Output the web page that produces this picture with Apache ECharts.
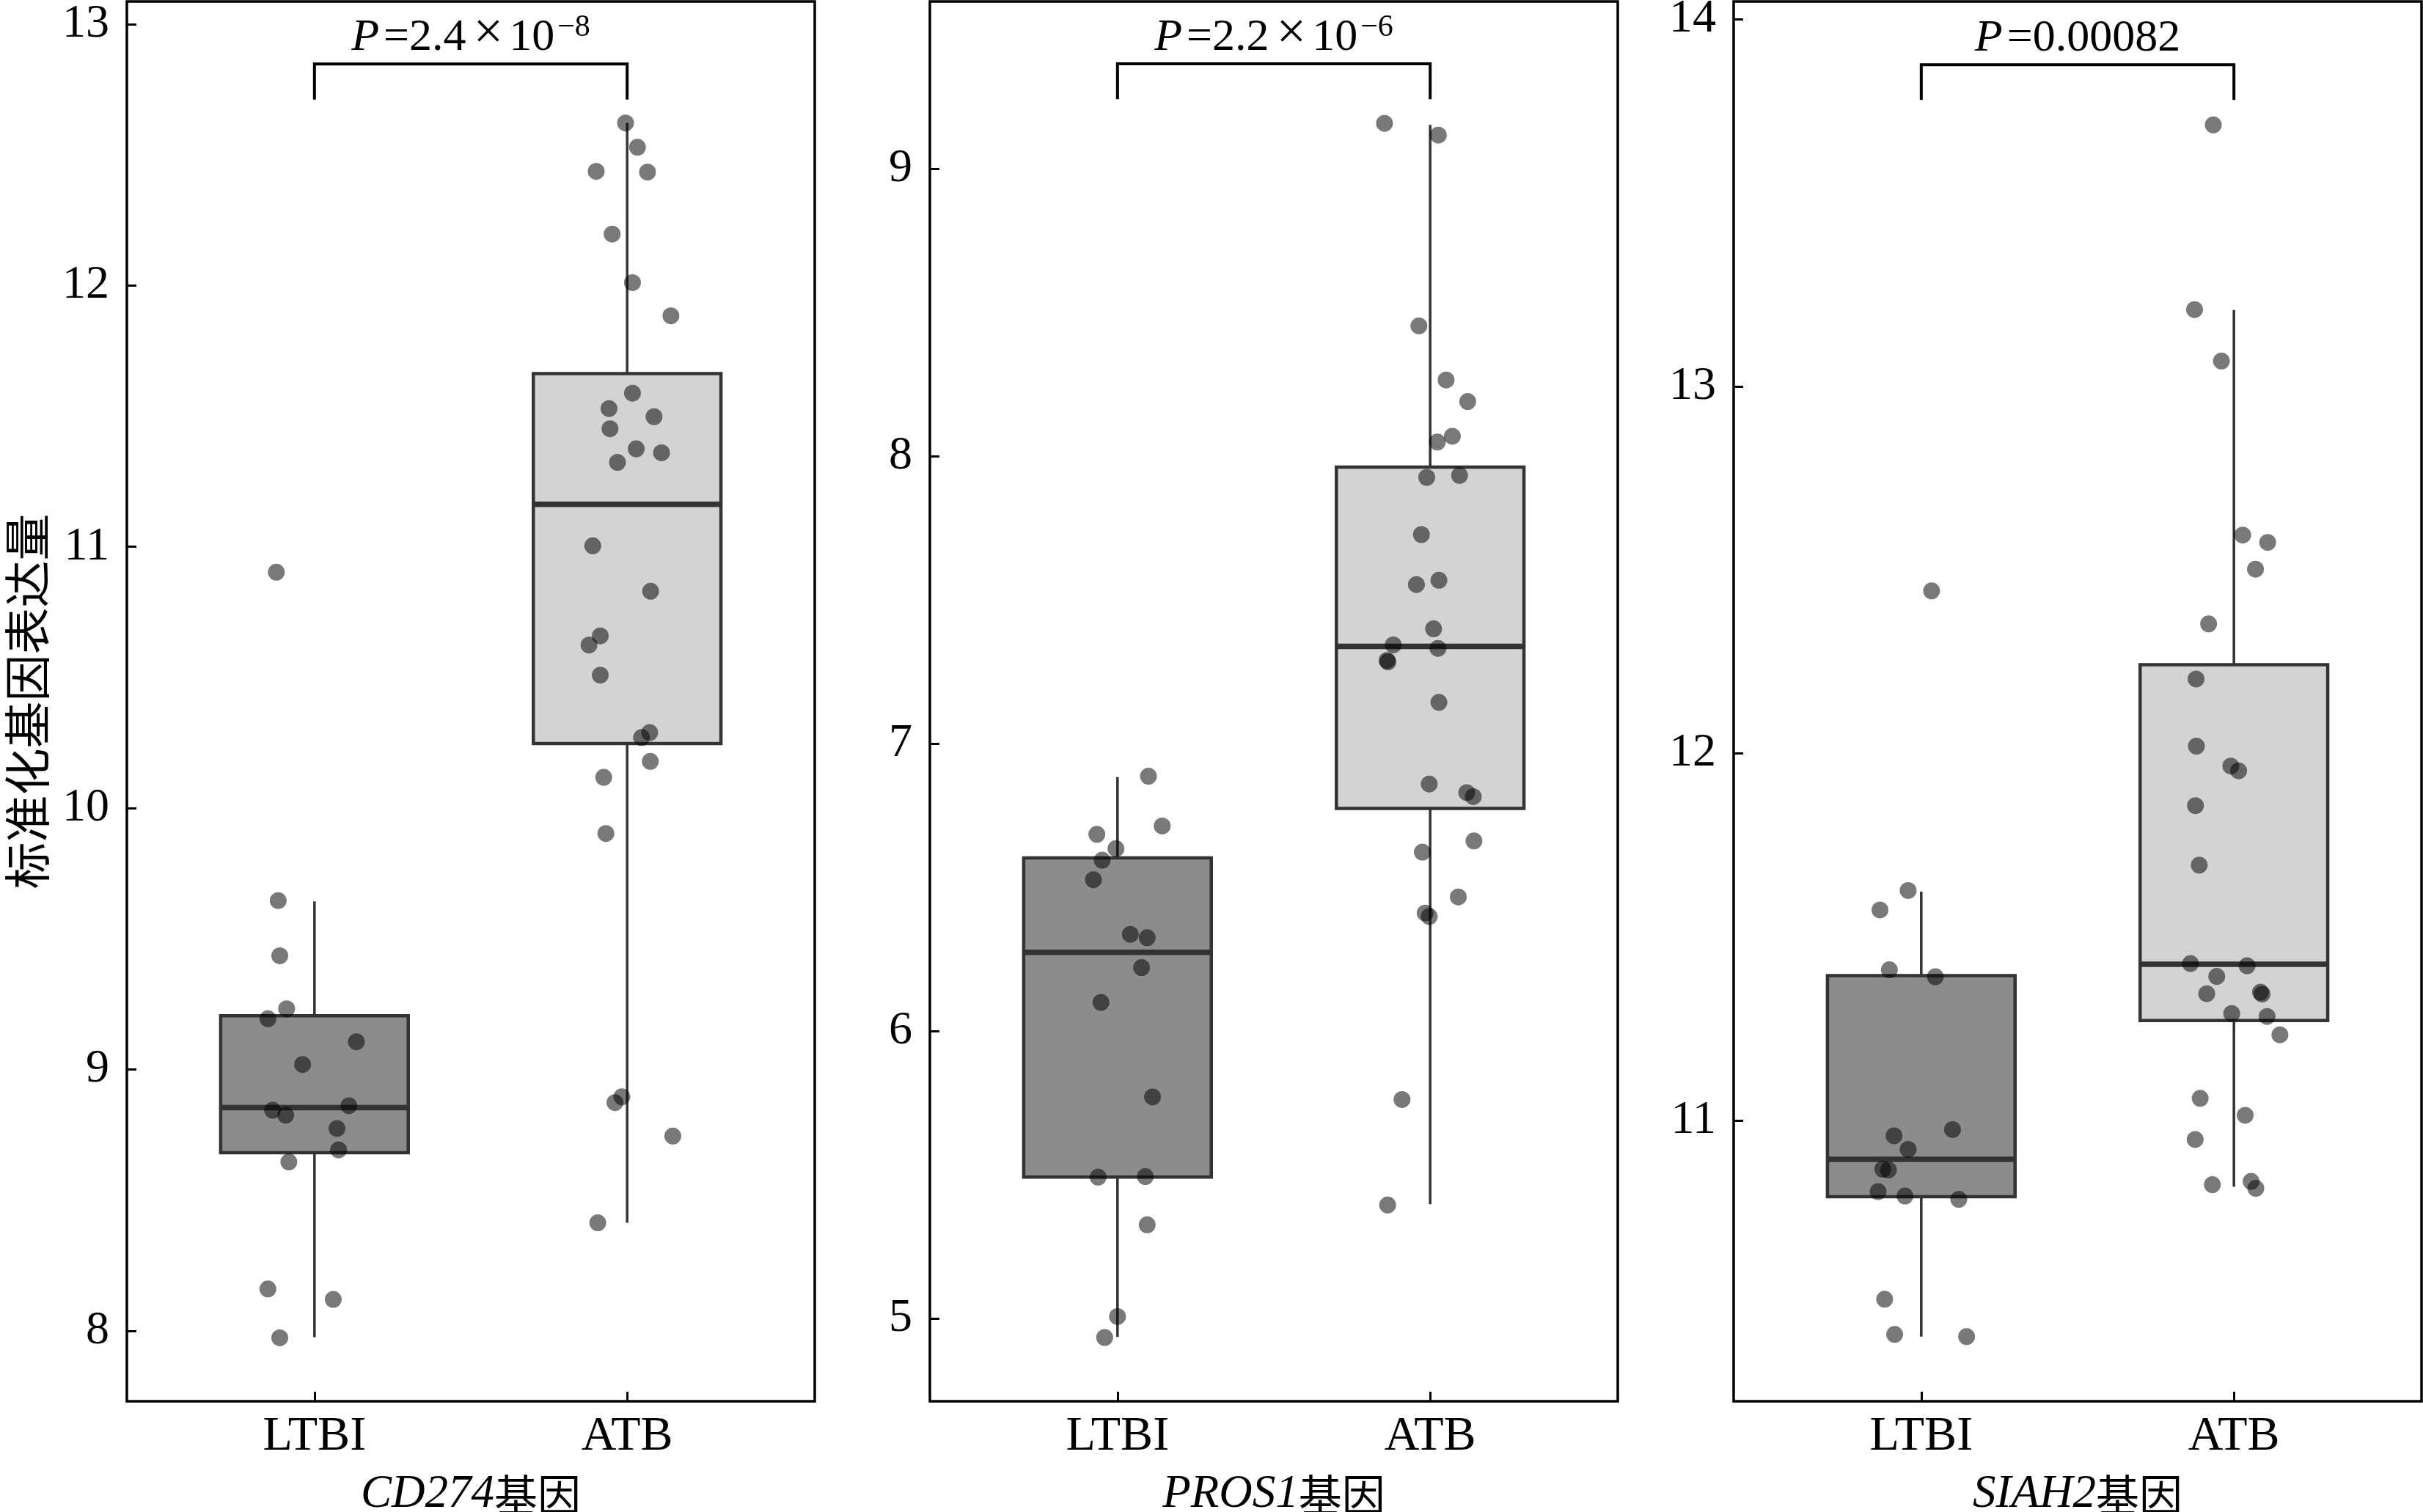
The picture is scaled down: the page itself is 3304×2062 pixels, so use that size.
<!DOCTYPE html>
<html>
<head>
<meta charset="utf-8">
<script src="https://cdn.jsdelivr.net/npm/echarts@6/dist/echarts.min.js"></script>
<style>
html, body { margin: 0; padding: 0; background: #fff; }
#main { width: 3304px; height: 2062px; }
</style>
</head>
<body>
<div id="main"></div>
<script>
var groups = ['LTBI', 'ATB'];
var genes = ['CD274', 'PROS1', 'SIAH2'];
var yLabel = '标准化基因表达量';

// p values shown above the brackets (mantissa, exponent)
var pMantissa = ['2.4', '2.2', '0.00082'];
var pExponent = ['−8', '−6', ''];

// y ticks and visible range of each panel
var yTicks = [[8, 9, 10, 11, 12, 13], [5, 6, 7, 8, 9], [11, 12, 13, 14]];
var yRange = [[7.73, 13.087], [4.712, 9.583], [10.236, 14.048]];
// bracket: bar height, leg end
var bracketY = [[12.848, 12.712], [9.366, 9.243], [13.876, 13.780]];

// box stats per group: [low whisker, Q1, median, Q3, high whisker]
var cd274Box = [[7.975, 8.681, 8.854, 9.205, 9.643], [8.413, 10.247, 11.163, 11.663, 12.622]];
var pros1Box = [[4.936, 5.492, 6.274, 6.603, 6.884], [5.398, 6.775, 7.339, 7.963, 9.154]];
var siah2Box = [[10.412, 10.793, 10.895, 11.395, 11.624], [10.820, 11.273, 11.426, 12.242, 13.208]];

// points (value) and their horizontal jitter (category units)
var cd274LTBI = [9.646, 9.435, 9.232, 9.194, 9.106, 9.019, 8.844, 8.861, 8.825, 8.774, 8.692, 8.646, 8.160, 8.120, 7.973, 10.903];
var cd274LTBIJit = [-0.116, -0.111, -0.089, -0.149, 0.134, -0.038, -0.134, 0.110, -0.092, 0.072, 0.077, -0.082, -0.149, 0.060, -0.111, -0.122];
var cd274ATB = [12.622, 12.529, 12.437, 12.434, 12.197, 12.011, 11.884, 11.588, 11.529, 11.498, 11.452, 11.375, 11.360, 11.323, 11.004, 10.830, 10.659, 10.624, 10.509, 10.270, 10.289, 10.179, 10.118, 9.903, 8.895, 8.873, 8.745, 8.413];
var cd274ATBJit = [-0.005, 0.033, -0.099, 0.065, -0.048, 0.017, 0.140, 0.017, -0.058, 0.086, -0.055, 0.029, 0.110, -0.031, -0.110, 0.075, -0.086, -0.122, -0.086, 0.046, 0.072, 0.074, -0.075, -0.068, -0.017, -0.039, 0.146, -0.094];

var pros1LTBI = [6.887, 6.714, 6.685, 6.635, 6.595, 6.527, 6.337, 6.325, 6.221, 6.100, 5.771, 5.492, 5.494, 5.326, 5.007, 4.934];
var pros1LTBIJit = [0.099, 0.143, -0.066, -0.005, -0.049, -0.077, 0.041, 0.095, 0.077, -0.053, 0.112, -0.062, 0.089, 0.095, 0.000, -0.041];
var pros1ATB = [9.159, 9.118, 8.454, 8.266, 8.191, 8.050, 8.070, 7.927, 7.934, 7.728, 7.554, 7.569, 7.400, 7.344, 7.332, 7.290, 7.285, 7.144, 6.860, 6.830, 6.816, 6.662, 6.623, 6.467, 6.411, 6.399, 5.762, 5.395];
var pros1ATBJit = [-0.146, 0.026, -0.036, 0.051, 0.120, 0.023, 0.071, -0.011, 0.094, -0.028, -0.044, 0.028, 0.011, -0.118, 0.025, -0.138, -0.135, 0.028, -0.003, 0.117, 0.138, 0.140, -0.025, 0.090, -0.016, -0.003, -0.090, -0.136];

var siah2LTBI = [12.443, 11.627, 11.574, 11.411, 11.392, 10.959, 10.976, 10.922, 10.868, 10.866, 10.807, 10.795, 10.786, 10.514, 10.418, 10.412];
var siah2LTBIJit = [0.033, -0.042, -0.132, -0.102, 0.045, -0.087, 0.100, -0.042, -0.123, -0.105, -0.138, -0.052, 0.120, -0.117, -0.085, 0.145];
var siah2ATB = [13.712, 13.209, 13.069, 12.595, 12.575, 12.502, 12.353, 12.203, 12.020, 11.966, 11.953, 11.858, 11.696, 11.428, 11.422, 11.393, 11.346, 11.350, 11.345, 11.292, 11.284, 11.234, 11.061, 11.015, 10.949, 10.826, 10.835, 10.816];
var siah2ATBJit = [-0.066, -0.126, -0.040, 0.028, 0.108, 0.069, -0.081, -0.121, -0.120, -0.010, 0.015, -0.123, -0.111, -0.139, 0.042, -0.055, -0.087, 0.085, 0.090, -0.007, 0.106, 0.147, -0.108, 0.036, -0.124, -0.069, 0.055, 0.070];

var panels = [
	{box: cd274Box, pts: [cd274LTBI, cd274ATB], jit: [cd274LTBIJit, cd274ATBJit]},
	{box: pros1Box, pts: [pros1LTBI, pros1ATB], jit: [pros1LTBIJit, pros1ATBJit]},
	{box: siah2Box, pts: [siah2LTBI, siah2ATB], jit: [siah2LTBIJit, siah2ATBJit]}
];

var serif = 'Liberation Serif';
var cjk = 'Noto Sans CJK SC';
var boxFill = ['#8c8c8c', '#d3d3d3'];
var edge = '#333333';
var halfW = 0.3;
var gridLeft = [173, 1268, 2364];

function renderBox(params, api) {
	var x = api.value(0);
	var lo = api.coord([x, api.value(1)]);
	var q1 = api.coord([x, api.value(2)]);
	var q3 = api.coord([x, api.value(4)]);
	var hi = api.coord([x, api.value(5)]);
	var tl = api.coord([x - halfW, api.value(4)]);
	var br = api.coord([x + halfW, api.value(2)]);
	var ml = api.coord([x - halfW, api.value(3)]);
	var mr = api.coord([x + halfW, api.value(3)]);
	return {
		type: 'group',
		children: [
			{type: 'line', shape: {x1: lo[0], y1: lo[1], x2: q1[0], y2: q1[1]}, style: {stroke: edge, lineWidth: 3.5}},
			{type: 'line', shape: {x1: q3[0], y1: q3[1], x2: hi[0], y2: hi[1]}, style: {stroke: edge, lineWidth: 3.5}},
			{type: 'rect', shape: {x: tl[0], y: tl[1], width: br[0] - tl[0], height: br[1] - tl[1]},
				style: {fill: boxFill[params.dataIndex], stroke: edge, lineWidth: 4.5}},
			{type: 'line', shape: {x1: ml[0], y1: ml[1], x2: mr[0], y2: mr[1]}, style: {stroke: edge, lineWidth: 7.5}}
		]
	};
}

function makeBracket(i) {
	return function (params, api) {
		var a = api.coord([api.value(0), api.value(2)]);
		var b = api.coord([api.value(1), api.value(2)]);
		var aLeg = api.coord([api.value(0), api.value(3)]);
		var bLeg = api.coord([api.value(1), api.value(3)]);
		var txt = '{i|P}{n|=' + pMantissa[i] + '}';
		if (pExponent[i]) {
			txt += '{x|×}{n|10}{s|' + pExponent[i] + '}';
		}
		return {
			type: 'group',
			children: [
				{type: 'polyline', shape: {points: [aLeg, a, b, bLeg]}, style: {stroke: '#000', lineWidth: 4, fill: null}},
				{type: 'text', x: (a[0] + b[0]) / 2, y: a[1] - 4,
					style: {
						text: txt, align: 'center', verticalAlign: 'bottom', fill: '#000',
						fontFamily: serif, fontSize: 62,
						rich: {
							i: {fontFamily: serif, fontStyle: 'italic', fontSize: 62, lineHeight: 66, verticalAlign: 'bottom', padding: [0, 6, 0, 0]},
							n: {fontFamily: serif, fontSize: 62, lineHeight: 66, verticalAlign: 'bottom'},
							x: {fontFamily: serif, fontSize: 72, lineHeight: 66, verticalAlign: 'bottom', padding: [0, 8, 0, 10]},
							s: {fontFamily: serif, fontSize: 42, lineHeight: 42, verticalAlign: 'top', padding: [0, 0, 0, 4]}
						}
					}}
			]
		};
	};
}

var option = {
	animation: false,
	backgroundColor: '#fff',
	grid: [],
	xAxis: [],
	yAxis: [],
	series: []
};

panels.forEach(function (p, i) {
	option.grid.push({left: gridLeft[i], top: 2, width: 938, height: 1909, show: true,
		outerBoundsMode: 'none', containLabel: false,
		borderColor: '#000', borderWidth: 3.5, backgroundColor: 'transparent'});
	option.xAxis.push({
		gridIndex: i, type: 'value', min: -0.6, max: 1.6,
		splitLine: {show: false}, axisLine: {show: false, onZero: false},
		axisTick: {inside: true, length: 13, customValues: [0, 1], lineStyle: {color: '#000', width: 3}},
		axisLabel: {customValues: [0, 1], formatter: function (v) { return groups[Math.round(v)]; },
			fontFamily: serif, fontSize: 66, color: '#000', margin: 16},
		name: '{g|' + genes[i] + '}{c|基因}', nameLocation: 'middle', nameGap: 96,
		nameTextStyle: {rich: {
			g: {fontFamily: serif, fontStyle: 'italic', fontSize: 63, color: '#000'},
			c: {fontFamily: cjk, fontSize: 59, color: '#000'}
		}}
	});
	var ya = {
		gridIndex: i, type: 'value', min: yRange[i][0], max: yRange[i][1],
		splitLine: {show: false}, axisLine: {show: false, onZero: false},
		axisTick: {inside: true, length: 13, customValues: yTicks[i], lineStyle: {color: '#000', width: 3}},
		axisLabel: {customValues: yTicks[i], fontFamily: serif, fontSize: 64, color: '#000', margin: 24}
	};
	if (i === 0) {
		ya.name = yLabel;
		ya.nameLocation = 'middle';
		ya.nameRotate = 90;
		ya.nameGap = 104;
		ya.nameTextStyle = {fontFamily: cjk, fontSize: 64, color: '#000'};
	}
	option.yAxis.push(ya);

	option.series.push({
		type: 'custom', xAxisIndex: i, yAxisIndex: i, z: 2,
		renderItem: renderBox,
		encode: {x: 0, y: [1, 2, 3, 4, 5]},
		data: p.box.map(function (b, g) { return [g].concat(b); })
	});
	[0, 1].forEach(function (g) {
		option.series.push({
			type: 'scatter', xAxisIndex: i, yAxisIndex: i, z: 3,
			symbolSize: 23,
			itemStyle: {color: 'rgba(0,0,0,0.66)'},
			data: p.pts[g].map(function (v, k) { return [g + p.jit[g][k], v]; })
		});
	});
	option.series.push({
		type: 'custom', xAxisIndex: i, yAxisIndex: i, z: 4,
		renderItem: makeBracket(i),
		encode: {x: [0, 1], y: [2, 3]},
		data: [[0, 1, bracketY[i][0], bracketY[i][1]]]
	});
});

var myChart = echarts.init(document.getElementById('main'));
myChart.setOption(option);
</script>
</body>
</html>
